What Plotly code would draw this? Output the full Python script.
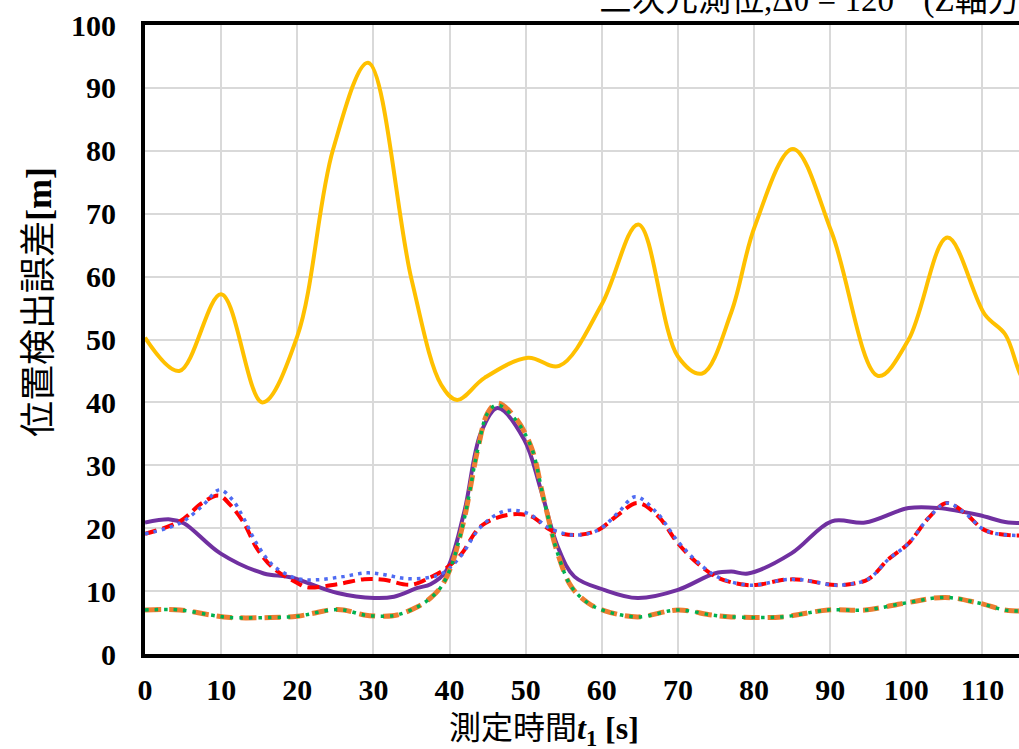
import plotly.graph_objects as go

# ---- data ----
x_yellow = [0, 4.5, 10, 15.4, 20, 24.7, 29.3, 35, 38.9, 41, 44.6, 50.3, 54.4, 60, 64.8, 70, 73.2, 77, 80.1, 85.1, 90.2, 96.3, 100.3, 105.4, 110.3, 113, 115, 118]
y_yellow = [50.3, 45, 57.2, 40, 50.5, 80.2, 94, 59.6, 42.8, 40.4, 43.9, 47.1, 45.8, 55.6, 68.3, 47.3, 44.6, 54.3, 68, 80.3, 67, 44.2, 50, 66.2, 54, 50.8, 44.4, 38]

x_purple = [0, 3.3, 5.1, 9.9, 15.6, 19.1, 25.3, 30.1, 32.7, 35.8, 37.5, 39.5, 41.9, 44.1, 46.3, 49.8, 52, 54.2, 56.4, 60.3, 64.7, 70, 74.8, 77, 79.2, 84.9, 90.2, 94.6, 100.3, 104.2, 109.5, 113.4, 117]
y_purple = [20.9, 21.4, 20.8, 16, 12.8, 12.2, 9.7, 8.9, 9.1, 10.5, 11.1, 13.1, 22.4, 35.1, 39.1, 34.1, 26.1, 17.1, 12.3, 10.2, 8.9, 10.2, 12.8, 13.1, 12.8, 16, 21.1, 20.9, 23.2, 23.2, 22.1, 20.9, 21]

x_red = [0, 4.6, 7.5, 9.7, 11.2, 13, 14.7, 16.9, 20, 21.3, 25.3, 28.8, 31.4, 34.9, 37.5, 39.3, 41.5, 44.1, 47.6, 50.7, 53.3, 56.4, 59.5, 62.1, 64.7, 67.4, 70, 72.6, 75.3, 78.8, 80.5, 84, 86.2, 90.2, 91.9, 95, 97.6, 100.3, 102.9, 105.3, 107.7, 110.3, 113.4, 117]
y_red = [19.1, 21.1, 24, 25.2, 23.7, 20.8, 16.8, 13.6, 11.3, 10.6, 11.1, 11.9, 11.8, 11, 12.2, 13.4, 15.8, 20.3, 22.1, 21.9, 19.7, 18.9, 19.7, 22.1, 24, 21.9, 17.6, 14.4, 12.1, 11, 11, 11.8, 11.8, 11, 11, 11.9, 15, 17.6, 21.6, 24, 22.4, 19.7, 18.9, 19]

x_blue = [0, 4.6, 7.5, 9.8, 11.5, 13, 14.7, 16.9, 20, 22.6, 26, 29.2, 31.5, 34.2, 37.5, 39.3, 41.5, 44.1, 47.2, 50.2, 53.3, 56.4, 59.5, 62.1, 64.4, 67.2, 70, 72.6, 75.3, 78.8, 80.5, 84, 86.2, 90.2, 91.9, 95, 97.6, 100.3, 102.9, 105.3, 107.7, 110.3, 113.4, 117]
y_blue = [19.1, 20.8, 23.5, 26.1, 24.5, 21.5, 17.5, 14, 12, 11.8, 12.3, 12.9, 12.6, 12, 12.2, 13, 15.6, 20.2, 22.7, 22.4, 19.9, 18.9, 19.7, 22.4, 25, 22.5, 17.9, 14.6, 12.2, 11, 11, 11.8, 11.8, 11, 11, 11.9, 15, 17.6, 21.6, 24, 22.4, 19.7, 18.9, 19]

x_orange = [0, 4.6, 8.6, 11.2, 16.5, 20, 24.4, 26.1, 28.8, 31.4, 33.1, 35.8, 37.5, 38.9, 40.2, 41.9, 43.7, 45, 46.3, 48.5, 50.7, 52.4, 54.2, 56, 58.2, 60.3, 64.7, 70, 74.4, 77, 83.7, 89.7, 94.6, 100.3, 105.1, 109.5, 113.4, 117]
y_orange = [7, 7, 6.2, 5.8, 5.8, 6, 7, 7, 6.2, 6, 6.2, 7.5, 8.9, 10.7, 13.9, 21.3, 32.5, 38.3, 39.9, 37.8, 33, 24.5, 16, 10.7, 8.1, 6.9, 5.9, 7, 6.2, 5.9, 5.9, 7, 7, 8.2, 9, 8.1, 6.9, 7]

x_green = x_orange
y_green = [7, 7, 6.2, 5.8, 5.8, 6, 7, 7, 6.2, 6, 6.2, 7.5, 8.9, 10.7, 13.9, 21.3, 32.5, 38.3, 39.6, 37.5, 33, 24.5, 16, 10.7, 8.1, 6.9, 5.9, 7, 6.2, 5.9, 5.9, 7, 7, 8.2, 9, 8.1, 6.9, 7]

x_ticks = [0, 10, 20, 30, 40, 50, 60, 70, 80, 90, 100, 110]
y_ticks = [0, 10, 20, 30, 40, 50, 60, 70, 80, 90, 100]

title_text = "三次元測位,Δθ = 120°  (Z軸方向)"
x_title = "<span style='font-family:Noto Sans CJK JP;font-weight:normal'>測定時間</span><b><i>t</i><sub>1</sub> [s]</b>"
y_title = "<span style='font-family:Noto Sans CJK JP;font-weight:normal'>位置検出誤差</span><b>[m]</b>"

fig = go.Figure()

def add(xs, ys, color, width, dash):
    fig.add_trace(go.Scatter(x=xs, y=ys, mode="lines",
                             line=dict(color=color, width=width, dash=dash, shape="spline", smoothing=1.0),
                             showlegend=False, hoverinfo="skip"))

add(x_yellow, y_yellow, "#FFC000", 4, "solid")
add(x_purple, y_purple, "#7030A0", 4, "solid")
add(x_red, y_red, "#FF0000", 4, "12px,6px")
add(x_blue, y_blue, "#4F6BF2", 3.5, "3.5px,5px")
add(x_orange, y_orange, "#ED7D31", 5, "16px,8px")
add(x_green, y_green, "#00B050", 3.5, "3.5px,6px")

L, T = 145, 25
W, H = 1019, 749
B = 95
plot_w = W - L
plot_h = H - T - B

fig.update_layout(
    width=W, height=H,
    margin=dict(l=L, r=0, t=T, b=B),
    plot_bgcolor="white", paper_bgcolor="white",
    font=dict(family="Liberation Serif, Times New Roman, serif", color="black"),
    xaxis=dict(range=[0, 114.8], tickmode="array", tickvals=x_ticks,
               ticktext=[f"<b>{v}</b>" for v in x_ticks],
               tickfont=dict(size=30, family="Liberation Serif"),
               showgrid=True, gridcolor="#D9D9D9", gridwidth=1.5,
               showline=True, linecolor="black", linewidth=4, mirror=True,
               ticks="", ticklabelstandoff=6, zeroline=False),
    yaxis=dict(range=[0, 100], tickmode="array", tickvals=y_ticks,
               ticktext=[f"<b>{v}</b>" for v in y_ticks],
               tickfont=dict(size=30, family="Liberation Serif"),
               showgrid=True, gridcolor="#D9D9D9", gridwidth=1.5,
               showline=True, linecolor="black", linewidth=4, mirror=False,
               ticks="", ticklabelstandoff=19, zeroline=False),
)

def px_x(p):
    return (p - L) / plot_w

def px_y(p):
    return 1 - (p - T) / plot_h

# chart title (cut at the top edge, as in the reference)
fig.add_annotation(text=title_text, xref="paper", yref="paper",
                   x=px_x(597), y=px_y(0),
                   xanchor="left", yanchor="middle", showarrow=False,
                   font=dict(size=33, family="Liberation Serif, Noto Sans CJK JP", color="black"))

# x axis title
fig.add_annotation(text=x_title, xref="paper", yref="paper",
                   x=px_x(544), y=px_y(726),
                   xanchor="center", yanchor="middle", showarrow=False,
                   font=dict(size=32, family="Liberation Serif", color="black"))

# y axis title
fig.add_annotation(text=y_title, xref="paper", yref="paper",
                   x=px_x(35), y=px_y(302), textangle=-90,
                   xanchor="center", yanchor="middle", showarrow=False,
                   font=dict(size=36, family="Liberation Serif", color="black"))

fig.write_html("out.html")
